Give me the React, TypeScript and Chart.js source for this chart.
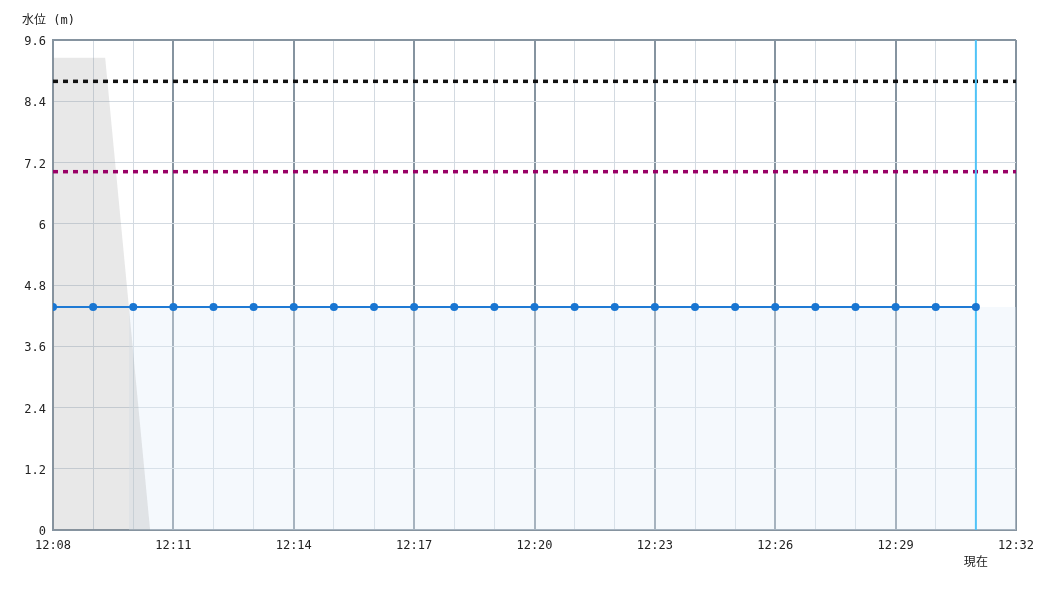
import React, { useEffect, useRef } from "react";
import { Chart, registerables } from "chart.js";
Chart.register(...registerables);

// minutes since 12:08
const levelX = [0, 1, 2, 3, 4, 5, 6, 7, 8, 9, 10, 11, 12, 13, 14, 15, 16, 17, 18, 19, 20, 21, 22, 23];
const levelY = [4.37, 4.37, 4.37, 4.37, 4.37, 4.37, 4.37, 4.37, 4.37, 4.37, 4.37, 4.37, 4.37, 4.37, 4.37, 4.37, 4.37, 4.37, 4.37, 4.37, 4.37, 4.37, 4.37, 4.37];
const fillX = [1.89, 24];
const fillY = [4.37, 4.37];
const lineX = [0, 24];
const grayX = [0, 1.3, 2.42];
const grayY = [9.25, 9.25, 0];
const warnLevel = 8.79;
const alertLevel = 7.02;
const nowX = 23;
const yTicks = [0, 1.2, 2.4, 3.6, 4.8, 6, 7.2, 8.4, 9.6];
const startHour = 12;
const startMin = 8;
const yTitle = "水位 (m)";
const nowLabel = "現在";

const FONT = "'DejaVu Sans Mono', 'Noto Sans CJK JP', monospace";

function fmtTime(v: number) {
  const total = startHour * 60 + startMin + v;
  const h = Math.floor(total / 60);
  const m = total % 60;
  return `${h}:${String(m).padStart(2, "0")}`;
}

export default function App() {
  const ref = useRef<HTMLCanvasElement>(null);
  useEffect(() => {
    const textPlugin = {
      id: "texts",
      afterDraw(chart: any) {
        const ctx = chart.ctx;
        ctx.save();
        ctx.fillStyle = "#222";
        ctx.font = `12px ${FONT}`;
        ctx.textBaseline = "middle";
        ctx.textAlign = "left";
        ctx.fillText(yTitle, 22, 21);
        ctx.textAlign = "center";
        const x = chart.scales.x.getPixelForValue(nowX);
        ctx.fillText(nowLabel, x, 563);
        ctx.restore();
      },
    };
    const chart = new Chart(ref.current!, {
      type: "scatter",
      data: {
        datasets: [
          {
            data: levelX.map((x, i) => ({ x, y: levelY[i] })),
            showLine: true,
            borderColor: "#1f7ad4",
            backgroundColor: "#1976d2",
            borderWidth: 2,
            pointRadius: 4,
            pointBorderWidth: 0,
            order: 1,
          },
          {
            data: [
              { x: nowX, y: 0 },
              { x: nowX, y: 9.6 },
            ],
            showLine: true,
            borderColor: "#4fc3f7",
            borderWidth: 2,
            pointRadius: 0,
            order: 2,
          },
          {
            data: lineX.map((x) => ({ x, y: warnLevel })),
            showLine: true,
            borderColor: "#111111",
            borderWidth: 3.5,
            borderDash: [5, 5],
            pointRadius: 0,
            order: 3,
          },
          {
            data: lineX.map((x) => ({ x, y: alertLevel })),
            showLine: true,
            borderColor: "#990066",
            borderWidth: 3.5,
            borderDash: [5, 5],
            pointRadius: 0,
            order: 4,
          },
          {
            data: grayX.map((x, i) => ({ x, y: grayY[i] })),
            showLine: true,
            borderWidth: 0,
            borderColor: "rgba(0,0,0,0)",
            backgroundColor: "rgba(140,140,140,0.2)",
            fill: "origin",
            pointRadius: 0,
            order: 5,
          },
          {
            data: fillX.map((x, i) => ({ x, y: fillY[i] })),
            showLine: true,
            borderWidth: 0,
            borderColor: "rgba(0,0,0,0)",
            backgroundColor: "rgba(225,238,250,0.35)",
            fill: "origin",
            pointRadius: 0,
            order: 6,
          },
        ],
      },
      options: {
        animation: false,
        responsive: false,
        maintainAspectRatio: false,
        layout: { padding: { left: 8, right: 34, top: 40, bottom: 40 } },
        plugins: { legend: { display: false }, tooltip: { enabled: false } },
        scales: {
          x: {
            type: "linear",
            min: 0,
            max: 24,
            afterBuildTicks: (s: any) => {
              s.ticks = Array.from({ length: 25 }, (_, i) => ({ value: i }));
            },
            afterFit: (s: any) => {
              s.height = 30;
            },
            ticks: {
              autoSkip: false,
              maxRotation: 0,
              padding: 9,
              color: "#222",
              font: { family: FONT, size: 12 },
              callback: (v: any) => (Number(v) % 3 === 0 ? fmtTime(Number(v)) : ""),
            },
            grid: {
              drawTicks: false,
              color: (c: any) => (c.tick && c.tick.value % 3 === 0 ? "#8694a0" : "#d3dae1"),
              lineWidth: (c: any) => (c.tick && c.tick.value % 3 === 0 ? 2 : 1),
            },
            border: { color: "#8694a0", width: 2 },
          },
          y: {
            type: "linear",
            min: 0,
            max: 9.6,
            afterBuildTicks: (s: any) => {
              s.ticks = yTicks.map((v) => ({ value: v }));
            },
            afterFit: (s: any) => {
              s.width = 45;
            },
            ticks: {
              padding: 7,
              labelOffset: 2,
              color: "#222",
              font: { family: FONT, size: 12 },
              callback: (v: any) => String(Math.round(Number(v) * 10) / 10),
            },
            grid: {
              drawTicks: false,
              color: (c: any) => (c.tick && c.tick.value >= 9.6 ? "#8694a0" : "#d3dae1"),
              lineWidth: (c: any) => (c.tick && c.tick.value >= 9.6 ? 2 : 1),
            },
            border: { color: "#8694a0", width: 2 },
          },
        },
      },
      plugins: [textPlugin],
    } as any);
    return () => chart.destroy();
  }, []);
  return (
    <div style={{ position: "fixed", left: 0, top: 0, width: 1050, height: 600, background: "#fff" }}>
      <canvas ref={ref} width={1050} height={600} style={{ width: 1050, height: 600 }} />
    </div>
  );
}
